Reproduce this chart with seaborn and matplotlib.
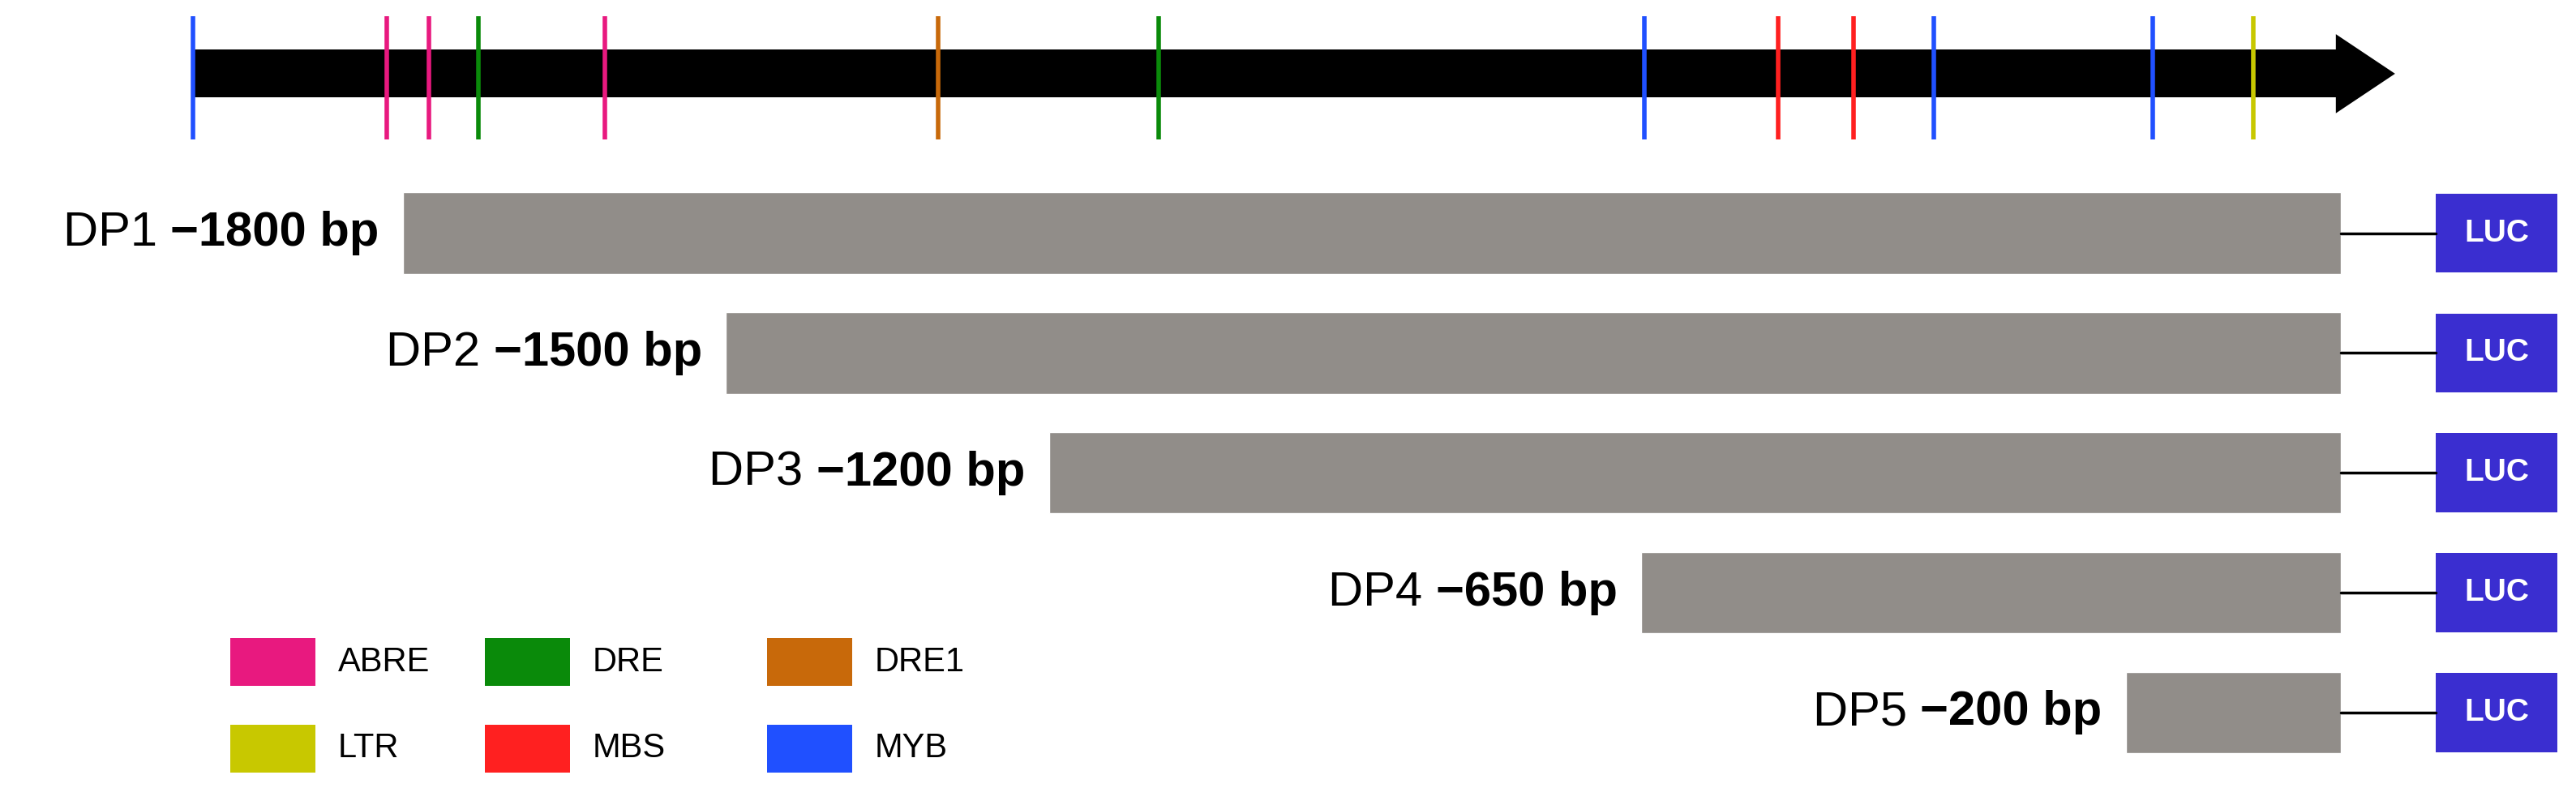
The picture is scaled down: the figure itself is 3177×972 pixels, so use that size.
import matplotlib
matplotlib.use("Agg")
import matplotlib.pyplot as plt
import seaborn as sns
import pandas as pd
from matplotlib.patches import Rectangle, FancyArrow

constructs = ["DP1", "DP2", "DP3", "DP4", "DP5"]
lengths = [1800, 1500, 1200, 650, 200]
elem_names = ["MYB", "ABRE", "ABRE", "DRE", "ABRE", "DRE1", "DRE", "MYB", "MBS", "MBS", "MYB", "MYB", "LTR"]
elem_pos = [-1995, -1815, -1776, -1730, -1612, -1303, -1098, -647, -523, -453, -378, -175, -82]
legend_order = ["ABRE", "DRE", "DRE1", "LTR", "MBS", "MYB"]
colors = {"ABRE": "#E8197F", "DRE": "#0A8A0A", "DRE1": "#C8690A",
          "LTR": "#C8C800", "MBS": "#FF2020", "MYB": "#2050FF"}

sns.set_theme(style="white")
plt.rcParams['font.family'] = ['Liberation Sans', 'DejaVu Sans']
plt.rcParams['text.color'] = 'black'
fig = plt.figure(figsize=(31.77, 9.72), dpi=100)
ax = fig.add_axes([0, 0, 1, 1])

df = pd.DataFrame({"c": constructs, "v": [-l for l in lengths]})
sns.barplot(data=df, x="v", y="c", orient="h", color="#918D89", saturation=1,
            width=0.68, ax=ax)
ax.set_xlim(-2174, 218)
ax.set_ylim(4.63, -1.945)
ax.axis("off")

# promoter arrow
ya = -1.33
ax.add_patch(Rectangle((-1995, ya - 0.2), 1995 + 10, 0.40, color="black", lw=0))
ax.add_patch(FancyArrow(5, ya, 45, 0, width=0.001, head_width=0.66, head_length=55,
                        length_includes_head=True, color="black", lw=0))
for n, p in zip(elem_names, elem_pos):
    ax.plot([p, p], [ya - 0.48, ya + 0.55], color=colors[n], lw=4, solid_capstyle="butt")

# labels, connector and LUC
for i, (c, l) in enumerate(zip(constructs, lengths)):
    xr = -l - 22
    t = ax.text(xr, i, f"\u2212{l} bp", ha="right", va="center", fontsize=43,
                fontweight="bold", color="black")
    ax.annotate(c + " ", xy=(0, 0.5), xycoords=t, ha="right", va="center",
                fontsize=43, color="black")
    ax.plot([0, 88], [i, i], color="black", lw=2.5)
    ax.add_patch(Rectangle((88, i - 0.33), 113, 0.66, color="#3A2ED0", lw=0))
    ax.text(144.5, i, "LUC", ha="center", va="center", fontsize=28, color="white",
            fontweight="bold")

# legend
lx = [-1960, -1724, -1462]
ly = [3.58, 4.3]
for k, n in enumerate(legend_order):
    x = lx[k % 3]; y = ly[k // 3]
    ax.add_patch(Rectangle((x, y - 0.2), 79, 0.4, color=colors[n], lw=0))
    ax.text(x + 100, y, n, ha="left", va="center", fontsize=30, color="black")

fig.savefig("out.png", dpi=100)
